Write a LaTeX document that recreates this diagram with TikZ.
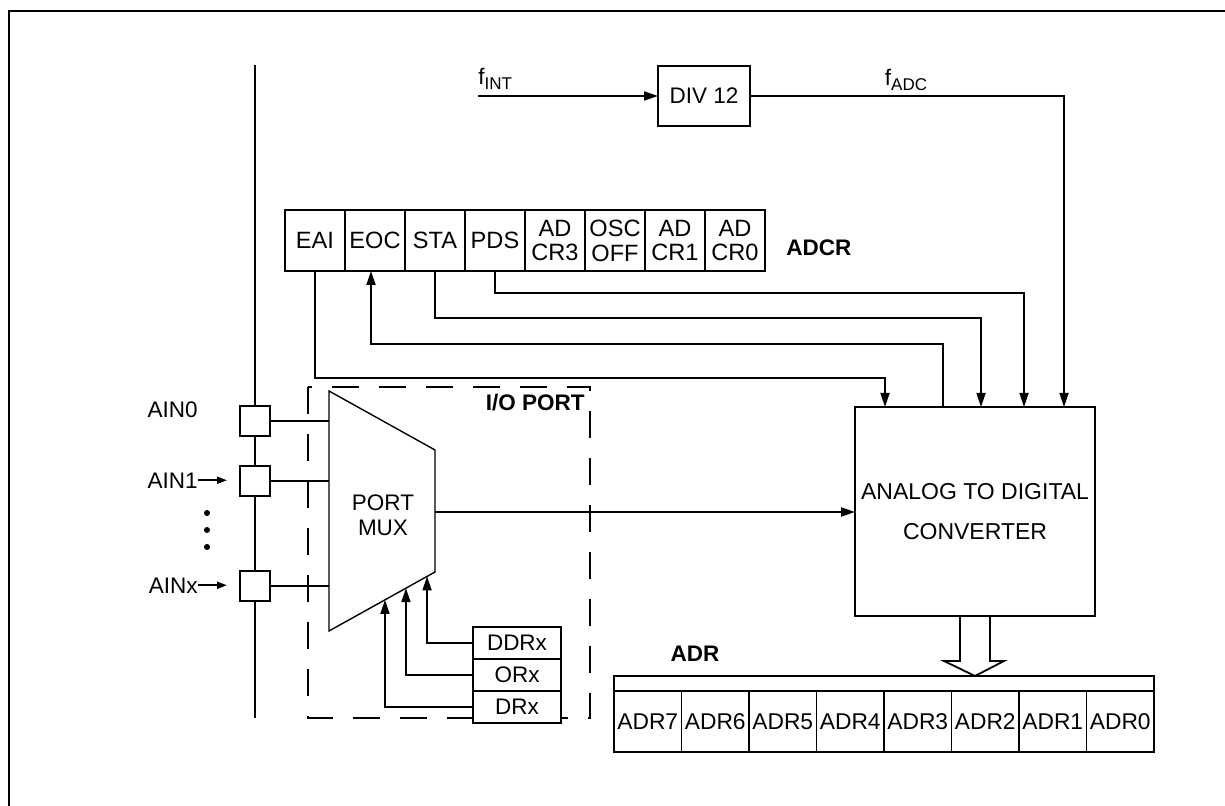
\documentclass[tikz,border=0pt]{standalone}
\usepackage{fontspec}
\setmainfont{Liberation Sans}
\usetikzlibrary{arrows.meta,positioning,calc}
\tikzset{
  adcbox/.style={draw, fill=white, line width=0.9pt, inner sep=0pt, outer sep=0pt, align=center,
    font=\fontsize{11.25}{12.5}\selectfont},
  adccell/.style={adcbox, minimum width=30pt, minimum height=30.5pt,
    font=\fontsize{11.8}{12.5}\selectfont},
  adrcell/.style={adcbox, minimum width=33.75pt, minimum height=30.5pt,
    font=\fontsize{11.4}{12}\selectfont},
  adcline/.style={line width=0.9pt},
  adcarrow/.style={-{Triangle[length=7pt,width=4.5pt]}, line width=0.9pt},
  adcsmall/.style={-{Triangle[length=5pt,width=3.5pt]}, line width=0.9pt},
  adctext/.style={inner sep=0pt, font=\fontsize{11.25}{12.5}\selectfont},
  adcbold/.style={inner sep=0pt, font=\fontsize{11.25}{12.5}\selectfont\bfseries},
}
\newcommand{\adcsub}[1]{\raisebox{-0.45ex}{\fontsize{8.5}{9}\selectfont #1}}

\begin{document}
\begin{tikzpicture}[x=0.5pt, y=-0.5pt]
  \useasboundingbox (0,0) rectangle (1225,806);
  \draw[line width=1.4pt] (9,806) -- (9,11) -- (1225,11);

  % bus
  \draw[adcline] (255,65) -- (255,718);

  % converter and clock
  \node[adcbox, minimum width=120pt, minimum height=104.5pt,
    font=\fontsize{11.5}{20}\selectfont] (adc) at (975,511.5) {ANALOG TO DIGITAL\\CONVERTER};
  \node[adcbox, minimum width=46pt, minimum height=30pt] (div) at (704,96) {DIV 12};
  \coordinate (fint) at (478,96);
  \draw[adcarrow] (fint) -- (div.west);
  \node[adctext, anchor=south west] at (478,90) {f\adcsub{INT}};
  \node[adctext, anchor=south] at (906,91) {f\adcsub{ADC}};
  \draw[adcarrow] (div.east) -| ($(adc.north west)+(209,0)$);

  % ADCR register
  \foreach \nm/\txt [count=\i from 0] in {eai/EAI, eoc/EOC, sta/STA, pds/PDS,
      adcr3/{AD\\CR3}, oscoff/{OSC\\OFF}, adcr1/{AD\\CR1}, adcr0/{AD\\CR0}}
    \node[adccell] (\nm) at (315+60*\i,240.5) {\txt};
  \node[adcbold, anchor=west] at (786,248) {ADCR};

  \draw[adcarrow] (eai.south) -- ++(0,107) -| ($(adc.north west)+(30,0)$);
  \draw[adcarrow] ($(adc.north west)+(88,0)$) -- ++(0,-63) -| ($(eoc.south)+(-4,0)$);
  \draw[adcarrow] (sta.south) -- ++(0,47) -| ($(adc.north west)+(126,0)$);
  \draw[adcarrow] (pds.south) -- ++(0,22) -| ($(adc.north west)+(169,0)$);

  % I/O port
  \draw[adcline, dash pattern=on 13.5pt off 10pt] (308,387) rectangle (590,718);
  \node[adcbold, anchor=base east] at (585,411) {I/O PORT};

  \coordinate (muxtl) at (329,391);
  \coordinate (muxtr) at (435,450);
  \coordinate (muxbr) at (435,572);
  \coordinate (muxbl) at (329,631);
  \draw[line width=0.7pt] (muxtl) -- (muxtr) -- (muxbr) -- (muxbl) -- cycle;
  \node[adctext, align=center] (mux) at (383,515) {PORT\\MUX};
  \coordinate (muxout) at (435,512);
  \draw[adcarrow] (muxout) -- (muxout -| adc.west);

  % analog inputs
  \foreach \nm/\y in {pad0/421, pad1/481, padx/586}
    \node[adcbox, minimum size=15pt] (\nm) at (255,\y) {};
  \foreach \nm in {pad0, pad1, padx}
    \draw[adcline] (\nm.east) -- (\nm.east -| muxtl);
  \node[adctext, anchor=base east] (ain0) at (198,418) {AIN0};
  \node[adctext, anchor=base east] (ain1) at (198,488) {AIN1};
  \node[adctext, anchor=base east] (ainx) at (198,593) {AINx};
  \draw[adcsmall, shorten >=6.5pt] (ain1.east) -- (ain1.east -| pad1.west);
  \draw[adcsmall, shorten >=6.5pt] (ainx.east) -- (ainx.east -| padx.west);
  \foreach \y in {513,530,547}
    \fill (207,\y) circle (1.5pt);

  % port registers
  \node[adcbox, minimum width=44pt, minimum height=16pt] (ddrx) at (517,643) {DDRx};
  \node[adcbox, minimum width=44pt, minimum height=16pt, below=0pt of ddrx] (orx) {ORx};
  \node[adcbox, minimum width=44pt, minimum height=16pt, below=0pt of orx] (drx) {DRx};
  \coordinate (mddr) at ($(muxbr)!0.075!(muxbl)$);
  \coordinate (mor) at ($(muxbr)!0.274!(muxbl)$);
  \coordinate (mdr) at ($(muxbr)!0.472!(muxbl)$);
  \draw[adcarrow] (ddrx.west) -| (mddr);
  \draw[adcarrow] (orx.west) -| (mor);
  \draw[adcarrow] (drx.west) -| (mdr);

  % ADR register
  \node[adcbox, minimum width=270pt, minimum height=7.5pt] (adrbar) at (884,683.5) {};
  \foreach \txt [count=\i from 0] in {7,...,0}
    \node[adrcell] (adr\txt) at (647.75+67.5*\i,721.5) {ADR\txt};
  \node[adcbold] at (695,654) {ADR};
  \draw[adcline] ($(adc.south)+(-15,0)$) -- ++(0,45) -- ++(-16,0)
    -- (adc.south |- adrbar.north) -- ++(29,-15) -- ++(-14,0) -- ++(0,-45);
\end{tikzpicture}
\end{document}
